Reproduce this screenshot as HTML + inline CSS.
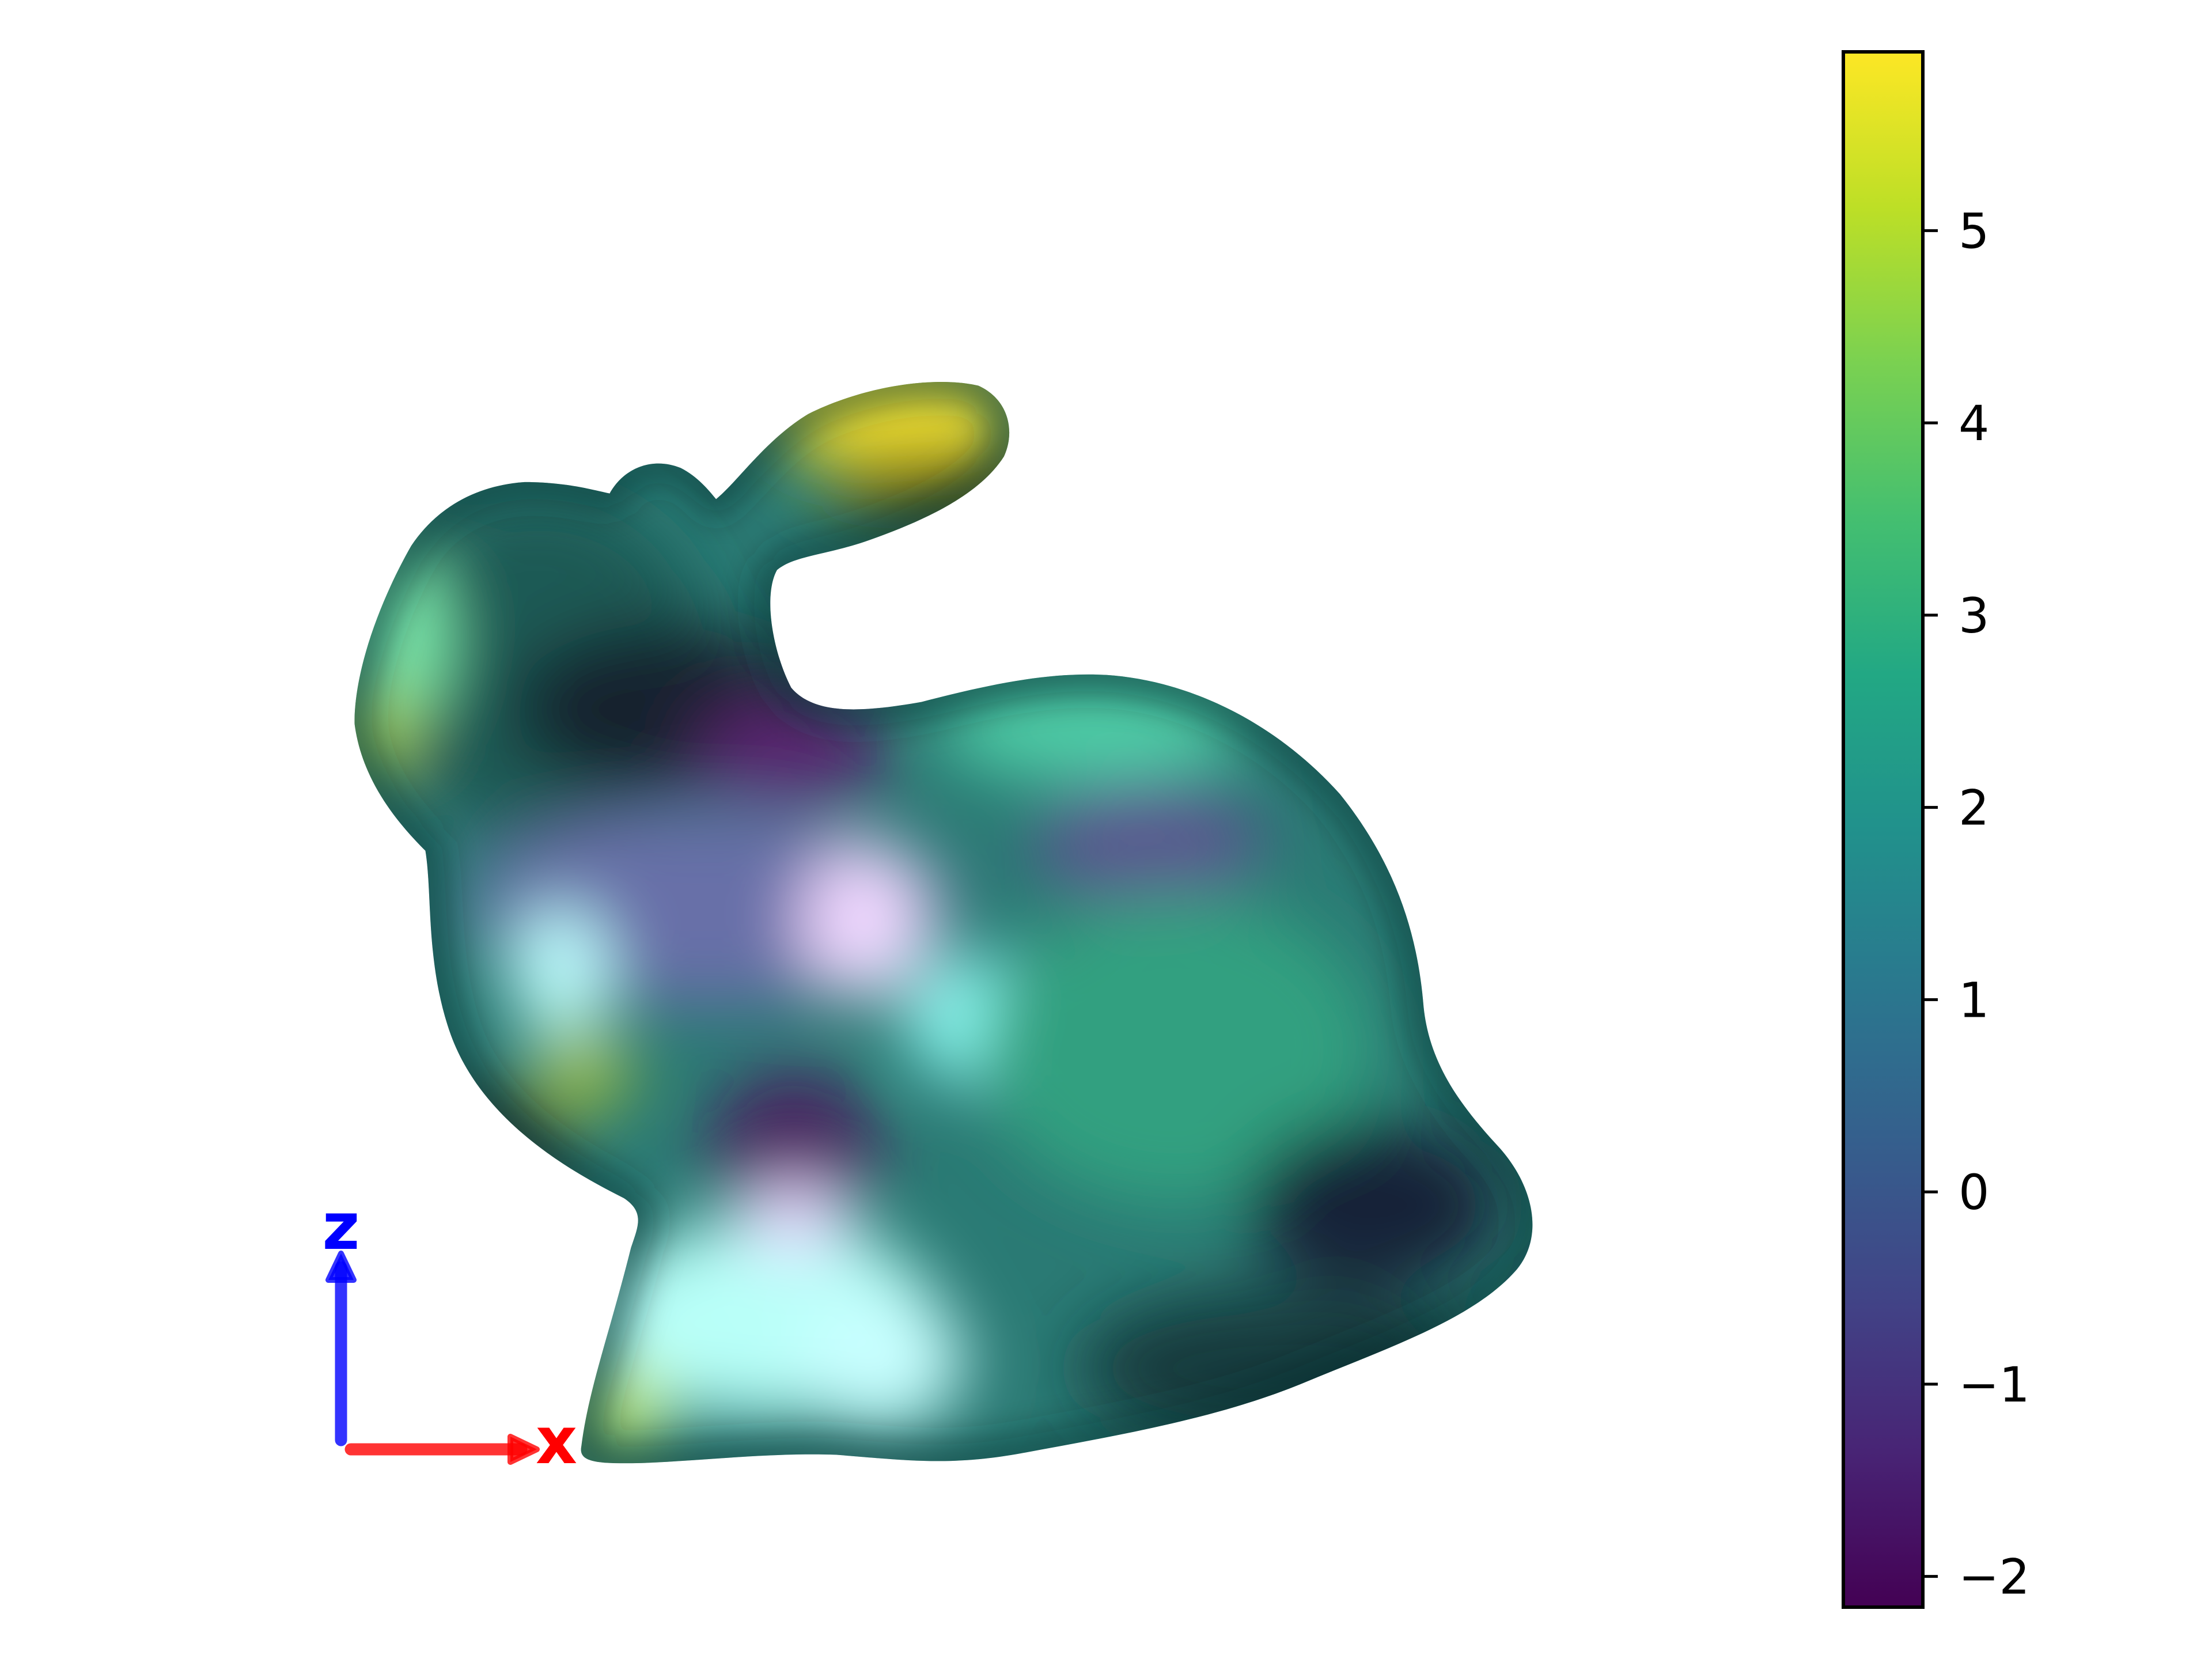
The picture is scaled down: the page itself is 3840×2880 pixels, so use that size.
<!DOCTYPE html>
<html><head><meta charset="utf-8">
<style>
html,body{margin:0;padding:0;background:#fff;}
svg{display:block;}
text{font-family:"DejaVu Sans","Liberation Sans",sans-serif;}
</style></head>
<body>
<svg id="fig" width="3840" height="2880" viewBox="0 0 3840 2880" xmlns="http://www.w3.org/2000/svg">
<defs>
  <linearGradient id="viridis" x1="0" y1="1" x2="0" y2="0">
    <stop offset="0" stop-color="#440154"/>
    <stop offset="0.1" stop-color="#482475"/>
    <stop offset="0.2" stop-color="#414487"/>
    <stop offset="0.3" stop-color="#355f8d"/>
    <stop offset="0.4" stop-color="#2a788e"/>
    <stop offset="0.5" stop-color="#21918c"/>
    <stop offset="0.6" stop-color="#22a884"/>
    <stop offset="0.7" stop-color="#44bf70"/>
    <stop offset="0.8" stop-color="#7ad151"/>
    <stop offset="0.9" stop-color="#bddf26"/>
    <stop offset="1" stop-color="#fde725"/>
  </linearGradient>
  <clipPath id="bunnyClip">
    <path d="M410,1020 C415,980 430,940 445,880 C450,865 455,855 440,845 C400,825 340,790 318,730 C300,680 305,630 300,600 C280,580 255,550 250,510 C250,470 270,420 290,385 C310,355 340,342 370,340 C400,340 420,346 430,348 C440,330 460,322 480,330 C492,336 500,346 505,352 C520,340 540,310 570,292 C610,272 660,265 690,272 C712,282 716,305 708,322 C690,350 650,368 610,382 C580,392 560,392 548,402 C538,420 545,460 558,485 C575,505 610,502 650,495 C700,482 740,474 780,476 C840,480 900,510 945,560 C985,610 1000,660 1004,710 C1008,750 1030,780 1058,810 C1080,835 1090,870 1070,895 C1040,930 980,950 920,975 C860,1000 790,1012 720,1025 C670,1034 640,1030 590,1026 C540,1024 480,1032 440,1032 C418,1032 408,1030 410,1020 Z"/>
  </clipPath>
  <filter id="blur" x="-50%" y="-50%" width="200%" height="200%"><feGaussianBlur stdDeviation="24"/></filter>
  <filter id="blur2" x="-50%" y="-50%" width="200%" height="200%"><feGaussianBlur stdDeviation="12"/></filter>
</defs>

<g id="bunny" transform="scale(2.4615)">
  <g clip-path="url(#bunnyClip)">
    <rect x="200" y="200" width="950" height="900" fill="#2a7a74"/>
    <g filter="url(#blur)">
      <ellipse cx="380" cy="470" rx="120" ry="120" fill="#1d5a55"/>
      <ellipse cx="470" cy="500" rx="110" ry="60" fill="#12202e"/>
      <ellipse cx="560" cy="530" rx="70" ry="35" fill="#5a2070"/>
      <ellipse cx="630" cy="290" rx="90" ry="40" fill="#f0e030"/>
      <ellipse cx="660" cy="345" rx="80" ry="25" fill="#4a4a10"/>
      <ellipse cx="285" cy="450" rx="30" ry="60" fill="#80f0b0"/>
      <ellipse cx="265" cy="515" rx="25" ry="30" fill="#b0d040"/>
      <ellipse cx="500" cy="640" rx="170" ry="70" fill="#6870a8"/>
      <ellipse cx="610" cy="650" rx="45" ry="55" fill="#f0d8ff"/>
      <ellipse cx="690" cy="720" rx="50" ry="45" fill="#90fff8"/>
      <ellipse cx="395" cy="685" rx="35" ry="45" fill="#c0ffff"/>
      <ellipse cx="410" cy="755" rx="35" ry="30" fill="#a0c040"/>
      <ellipse cx="810" cy="595" rx="80" ry="45" fill="#5a5890"/>
      <ellipse cx="830" cy="740" rx="140" ry="110" fill="#30a080"/>
      <ellipse cx="560" cy="810" rx="60" ry="55" fill="#4a2060"/>
      <ellipse cx="540" cy="930" rx="120" ry="70" fill="#b8fff8"/>
      <ellipse cx="620" cy="960" rx="60" ry="50" fill="#c8ffff"/>
      <ellipse cx="440" cy="995" rx="30" ry="30" fill="#d0f060"/>
      <ellipse cx="970" cy="850" rx="90" ry="60" fill="#142038"/>
      <ellipse cx="900" cy="965" rx="140" ry="55" fill="#123a3c"/>
      <ellipse cx="770" cy="515" rx="110" ry="35" fill="#50d0a8"/>
      <ellipse cx="340" cy="810" rx="60" ry="40" fill="#1c3b40"/>
      <ellipse cx="560" cy="860" rx="40" ry="25" fill="#e8d8ff"/>
    </g>
    <path d="M410,1020 C415,980 430,940 445,880 C450,865 455,855 440,845 C400,825 340,790 318,730 C300,680 305,630 300,600 C280,580 255,550 250,510 C250,470 270,420 290,385 C310,355 340,342 370,340 C400,340 420,346 430,348 C440,330 460,322 480,330 C492,336 500,346 505,352 C520,340 540,310 570,292 C610,272 660,265 690,272 C712,282 716,305 708,322 C690,350 650,368 610,382 C580,392 560,392 548,402 C538,420 545,460 558,485 C575,505 610,502 650,495 C700,482 740,474 780,476 C840,480 900,510 945,560 C985,610 1000,660 1004,710 C1008,750 1030,780 1058,810 C1080,835 1090,870 1070,895 C1040,930 980,950 920,975 C860,1000 790,1012 720,1025 C670,1034 640,1030 590,1026 C540,1024 480,1032 440,1032 C418,1032 408,1030 410,1020 Z" fill="none" stroke="#0a2a28" stroke-width="24" stroke-opacity="0.5" filter="url(#blur2)"/>
  </g>
</g>

<g id="axes-indicator">
  <line x1="592" y1="2500" x2="592" y2="2200" stroke="#0000ff" stroke-opacity="0.8" stroke-width="21" stroke-linecap="round"/>
  <polygon points="592,2176 570,2222 614,2222" fill="#0000ff" fill-opacity="0.8" stroke="#0000ff" stroke-opacity="0.8" stroke-width="10" stroke-linejoin="round"/>
  <text x="592" y="2168" font-size="112" font-weight="bold" fill="#0000ff" text-anchor="middle">z</text>
  <line x1="609" y1="2516" x2="905" y2="2516" stroke="#ff0000" stroke-opacity="0.8" stroke-width="21" stroke-linecap="round"/>
  <polygon points="932,2516 886,2494 886,2538" fill="#ff0000" fill-opacity="0.8" stroke="#ff0000" stroke-opacity="0.8" stroke-width="10" stroke-linejoin="round"/>
  <text x="966" y="2540" font-size="112" font-weight="bold" fill="#ff0000" text-anchor="middle">x</text>
</g>

<g id="colorbar">
  <rect x="3200" y="90" width="138" height="2700" fill="url(#viridis)" stroke="#000" stroke-width="6"/>
  <g id="cbticks"></g>
</g>

<script>
const tickValues = [-2, -1, 0, 1, 2, 3, 4, 5];
const tickLabels = ["\u22122", "\u22121", "0", "1", "2", "3", "4", "5"];
const cbMin = -2.16;
const cbMax = 5.93;
const cbTop = 90, cbBottom = 2790, cbRight = 3338;
function yScale(v){ return cbBottom - (v - cbMin) / (cbMax - cbMin) * (cbBottom - cbTop); }
const g = document.getElementById('cbticks');
const NS = 'http://www.w3.org/2000/svg';
tickValues.forEach((v, i) => {
  const y = yScale(v);
  const t = document.createElementNS(NS, 'line');
  
  
  t.setAttribute('x1', cbRight); t.setAttribute('x2', cbRight + 26);
  t.setAttribute('y1', y); t.setAttribute('y2', y);
  t.setAttribute('stroke', '#000'); t.setAttribute('stroke-width', '5');
  g.appendChild(t);
  const tx = document.createElementNS(NS, 'text');
  
  
  tx.setAttribute('x', 3400); tx.setAttribute('y', y + 30);
  tx.setAttribute('font-size', '84');
  tx.setAttribute('fill', '#000');
  tx.textContent = tickLabels[i];
  g.appendChild(tx);
});
</script>
</svg>
</body></html>
